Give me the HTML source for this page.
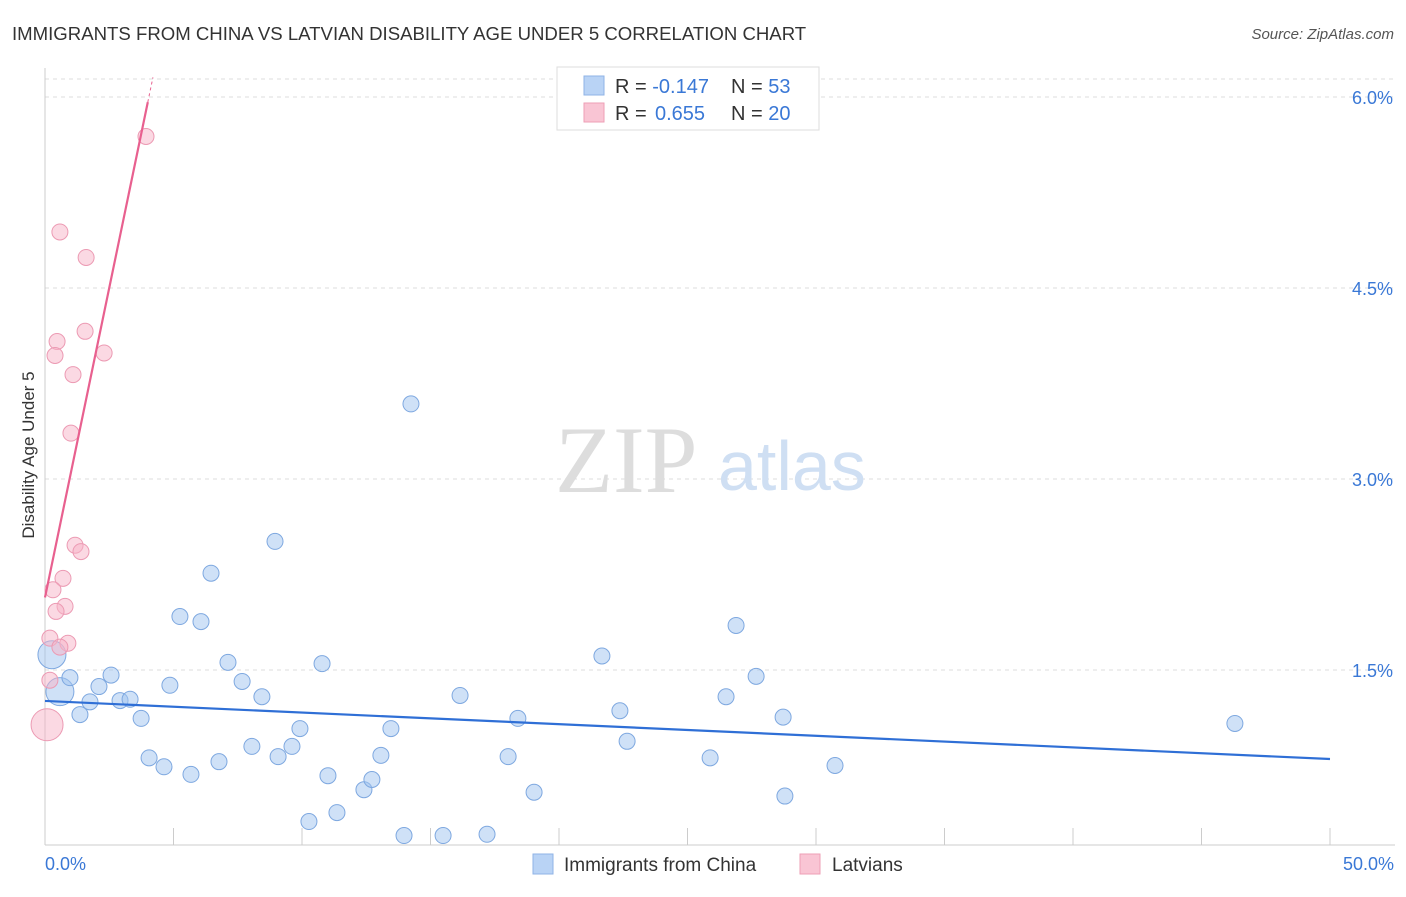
<!DOCTYPE html>
<html><head><meta charset="utf-8"><style>
body{margin:0;background:#fff;font-family:"Liberation Sans",sans-serif}
svg text{font-family:"Liberation Sans",sans-serif}
</style></head><body>
<svg width="1406" height="892">
<text x="12" y="40" font-size="18.6" fill="#333">IMMIGRANTS FROM CHINA VS LATVIAN DISABILITY AGE UNDER 5 CORRELATION CHART</text>
<text x="1394" y="39" font-size="15" fill="#555" font-style="italic" text-anchor="end">Source: ZipAtlas.com</text>
<g id="grid"></g>
<line x1="45" y1="68" x2="45" y2="845" stroke="#ccc"/>
<line x1="45" y1="845" x2="1395" y2="845" stroke="#ccc"/>
<text x="555" y="492" font-size="95" fill="#ddd" style="font-family:'Liberation Serif',serif">ZIP</text>
<text x="718" y="490" font-size="70" fill="#cfdff3">atlas</text>
<text transform="translate(34,455) rotate(-90)" font-size="17" fill="#333" text-anchor="middle">Disability Age Under 5</text>
<text x="45" y="870" font-size="18" fill="#3a78d6">0.0%</text>
<text x="1394" y="870" font-size="18" fill="#3a78d6" text-anchor="end">50.0%</text>
<g id="marks"></g>
<g>
<rect x="557" y="67" width="262" height="63" fill="#fff" stroke="#ddd"/>
<rect x="584" y="76" width="20" height="19" fill="#b9d3f5" stroke="#8fb3e6"/>
<rect x="584" y="103" width="20" height="19" fill="#f9c5d4" stroke="#ee9fb6"/>
<text x="615" y="93" font-size="20" fill="#333">R = <tspan fill="#3a78d6">-0.147</tspan><tspan x="731">N = </tspan><tspan fill="#3a78d6">53</tspan></text>
<text x="615" y="120" font-size="20" fill="#333">R = <tspan fill="#3a78d6" x="655">0.655</tspan><tspan x="731">N = </tspan><tspan fill="#3a78d6">20</tspan></text>
</g>
<g>
<rect x="533" y="854" width="20" height="20" fill="#b9d3f5" stroke="#8fb3e6"/>
<text x="564" y="871" font-size="19" fill="#333">Immigrants from China</text>
<rect x="800" y="854" width="20" height="20" fill="#f9c5d4" stroke="#ee9fb6"/>
<text x="832" y="871" font-size="19" fill="#333">Latvians</text>
</g>
</svg>
<script>
const yTicks=[1.5,3.0,4.5,6.0];
const xTicks=[5,10,15,20,25,30,35,40,45,50];
const blueX=[0.27,0.58,0.97,1.36,1.75,2.10,2.57,2.92,3.31,3.74,4.05,4.63,4.86,5.25,5.68,6.07,6.46,6.77,7.12,7.67,8.05,8.44,8.95,9.07,9.61,9.92,10.27,10.78,11.01,11.36,12.41,12.72,13.07,13.46,13.97,14.24,15.49,16.15,17.20,18.02,18.40,19.03,21.67,22.37,22.65,25.88,26.50,26.89,27.67,28.72,28.79,30.74,46.30];
const blueY=[1.62,1.33,1.44,1.15,1.25,1.37,1.46,1.26,1.27,1.12,0.81,0.74,1.38,1.92,0.68,1.88,2.26,0.78,1.56,1.41,0.90,1.29,2.51,0.82,0.90,1.04,0.31,1.55,0.67,0.38,0.56,0.64,0.83,1.04,0.20,3.59,0.20,1.30,0.21,0.82,1.12,0.54,1.61,1.18,0.94,0.81,1.29,1.85,1.45,1.13,0.51,0.75,1.08];
const pinkX=[3.93,0.58,1.60,1.56,0.47,0.39,2.30,1.09,1.01,1.17,1.40,0.70,0.31,0.78,0.43,0.89,0.19,0.58,0.19,0.08];
const pinkY=[5.69,4.94,4.74,4.16,4.08,3.97,3.99,3.82,3.36,2.48,2.43,2.22,2.13,2.00,1.96,1.71,1.75,1.68,1.42,1.07];
const blueTrend=[1.257,0.801];
const pinkTrend=[2.07,5.96];
const sx=v=>45+v*25.7, sy=v=>861-v*127.33;
const NS='http://www.w3.org/2000/svg';
const gridG=document.getElementById('grid'), marksG=document.getElementById('marks');
function mk(tag,attrs,parent){const e=document.createElementNS(NS,tag);for(const k in attrs)e.setAttribute(k,attrs[k]);parent.appendChild(e);return e;}
const topLine=mk('line',{x1:45,x2:1395,y1:79,y2:79,stroke:'#ddd','stroke-dasharray':'4,4'},gridG);


yTicks.forEach(t=>{
 const l=mk('line',{x1:45,x2:1395,y1:sy(t),y2:sy(t),stroke:'#ddd','stroke-dasharray':'4,4'},gridG);
 
 
 const tx=mk('text',{x:1393,y:sy(t)+7,'font-size':18,fill:'#3a78d6','text-anchor':'end'},gridG);
 tx.textContent=t.toFixed(1)+'%';
 
 
});
xTicks.forEach(t=>{
 const l=mk('line',{x1:sx(t),x2:sx(t),y1:828,y2:845,stroke:'#ccc'},gridG);
 
 
});
blueX.forEach((x,i)=>{
 const big=i<2;
 const c=mk('circle',{cx:sx(x),cy:sy(blueY[i]),r:big?14:8,fill:'rgba(160,196,240,0.5)',stroke:'#7ea8e0','stroke-width':1},marksG);
 
 
});
pinkX.forEach((x,i)=>{
 const big=i===pinkX.length-1;
 const c=mk('circle',{cx:sx(x),cy:sy(pinkY[i]),r:big?16:8,fill:'rgba(248,180,200,0.5)',stroke:'#ec9ab3','stroke-width':1},marksG);
 
 
});
const bl=mk('line',{x1:sx(0),y1:sy(blueTrend[0]),x2:sx(50),y2:sy(blueTrend[1]),stroke:'#2f6fd6','stroke-width':2.2},marksG);


const pl=mk('line',{x1:sx(0),y1:sy(pinkTrend[0]),x2:sx(4),y2:sy(pinkTrend[1]),stroke:'#e8608f','stroke-width':2.2},marksG);


const slope=(pinkTrend[1]-pinkTrend[0])/4;
const pd=mk('line',{x1:sx(4),y1:sy(pinkTrend[1]),x2:sx(4.2),y2:sy(pinkTrend[1]+slope*0.2),stroke:'#e8608f','stroke-width':1,'stroke-dasharray':'3,3'},marksG);


</script>
</body></html>
